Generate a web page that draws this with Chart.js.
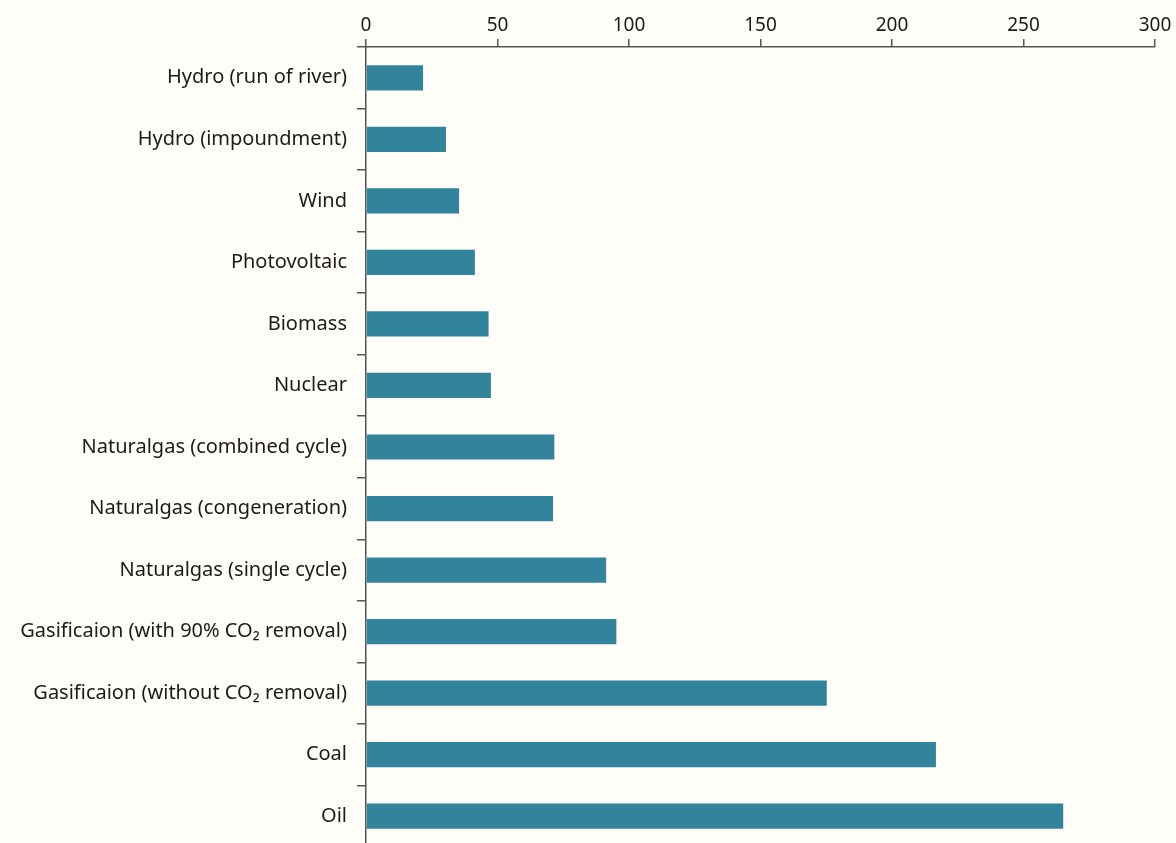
<!DOCTYPE html>
<html>
<head>
<meta charset="utf-8">
<script src="https://cdn.jsdelivr.net/npm/chart.js@4.4.1/dist/chart.umd.min.js"></script>
<style>
  html, body { margin: 0; padding: 0; background: #fefdf8; overflow: hidden; }
  canvas { display: block; }
</style>
</head>
<body>
<canvas id="c" width="1176" height="847" style="width:1176px;height:847px"></canvas>
<script>
const categories = [
  "Hydro (run of river)",
  "Hydro (impoundment)",
  "Wind",
  "Photovoltaic",
  "Biomass",
  "Nuclear",
  "Naturalgas (combined cycle)",
  "Naturalgas (congeneration)",
  "Naturalgas (single cycle)",
  "Gasificaion (with 90% CO\u2082 removal)",
  "Gasificaion (without CO\u2082 removal)",
  "Coal",
  "Oil"
];
const values = [21.7, 30.4, 35.4, 41.4, 46.6, 47.5, 71.6, 71.1, 91.3, 95.2, 175.2, 216.7, 265.1];
const xTicks = [0, 50, 100, 150, 200, 250, 300];

const axisColor = "#555555";
const textColor = "#1e1a1b";
const fontFamily = "'Noto Sans', sans-serif";

new Chart(document.getElementById("c"), {
  type: "bar",
  data: {
    labels: categories,
    datasets: [{
      data: values,
      backgroundColor: "#31849b",
      borderWidth: 0,
      barPercentage: 0.41,
      categoryPercentage: 1.0
    }]
  },
  options: {
    indexAxis: "y",
    responsive: false,
    maintainAspectRatio: false,
    animation: false,
    devicePixelRatio: 1,
    layout: { padding: { left: 0, right: 21, top: 0, bottom: 0 } },
    plugins: { legend: { display: false }, tooltip: { enabled: false } },
    scales: {
      x: {
        position: "top",
        min: 0, max: 300,
        afterBuildTicks: (s) => { s.ticks = xTicks.map(v => ({ value: v })); },
        afterFit: (s) => { s.height = 47; },
        ticks: { color: textColor, font: { family: fontFamily, size: 19 }, padding: 2, maxRotation: 0 },
        grid: { drawOnChartArea: false, drawTicks: true, tickLength: 8, color: axisColor, lineWidth: 1.5 },
        border: { display: true, color: axisColor, width: 1.5 }
      },
      y: {
        offset: true,
        afterFit: (s) => { s.width = 366; s.paddingTop = 0; s.paddingBottom = 0; },
        ticks: { color: textColor, font: { family: fontFamily, size: 20 }, padding: 10 },
        grid: { offset: true, drawOnChartArea: false, drawTicks: true, tickLength: 9, color: axisColor, lineWidth: 1.5 },
        border: { display: true, color: axisColor, width: 1.5 }
      }
    }
  }
});
</script>
</body>
</html>
